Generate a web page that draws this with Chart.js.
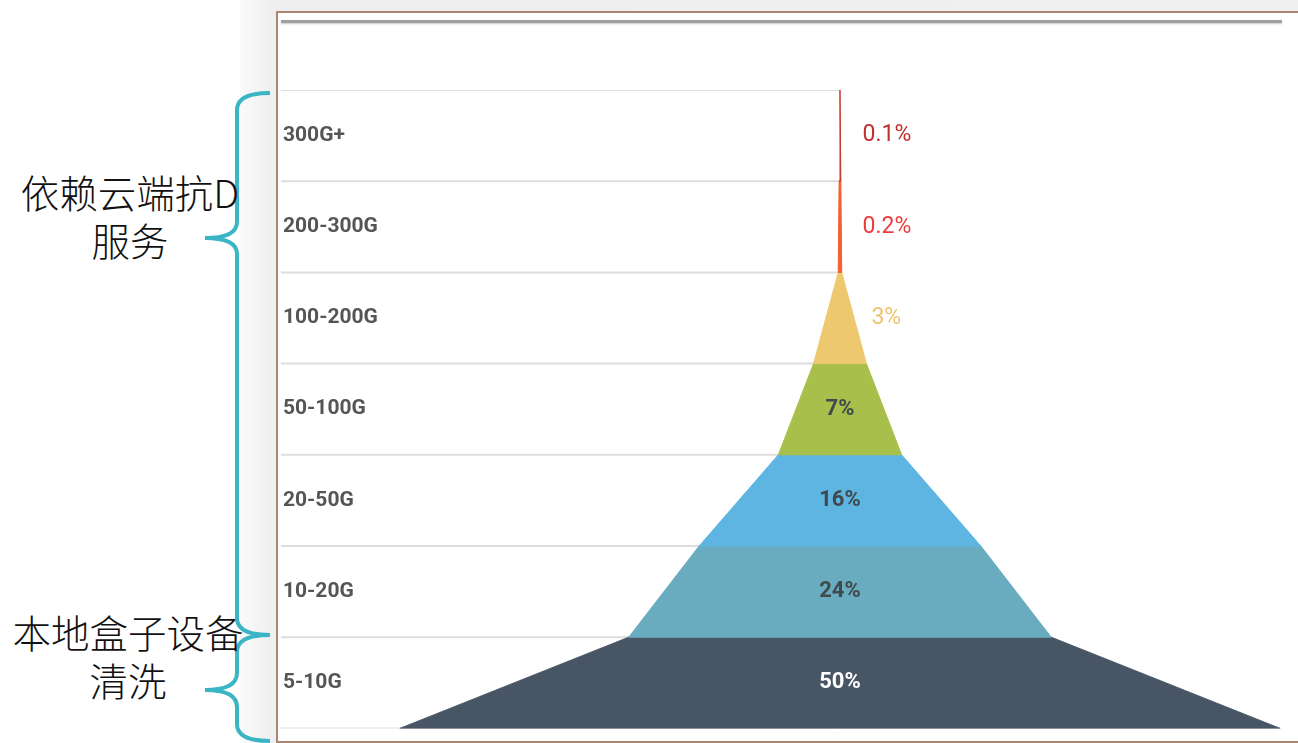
<!DOCTYPE html>
<html>
<head>
<meta charset="utf-8">
<script src="https://cdn.jsdelivr.net/npm/chart.js@4"></script>
<style>
  html, body { margin: 0; padding: 0; background: #fff; }
  #page { position: relative; width: 1298px; height: 743px; overflow: hidden; }
  #backdrop { position: absolute; left: 240px; top: 0; width: 1058px; height: 743px;
    background: linear-gradient(to right, #fafafa, #eeeeee 36px, #f0f0f0); }
  #frame { position: absolute; left: 276px; top: 11px; width: 1040px; height: 728px;
    border: 2px solid #a88670; background: #fff; }
  #topbar { position: absolute; left: 281px; top: 20px; width: 1001px; height: 3px;
    background: #a0a0a0; box-shadow: 0 1px 2px #c8c8c8; }
  #brace { position: absolute; left: 0; top: 0; }
  .note { position: absolute; width: 260px; text-align: center; color: #111;
    font-family: "Noto Sans CJK SC", sans-serif; font-weight: 300; font-size: 38.5px; line-height: 48px; }
  #chartBox { position: absolute; left: 0; top: 0; width: 1298px; height: 743px; }
</style>
</head>
<body>
<div id="page">
  <div id="backdrop"></div>
  <div id="frame"></div>
  <div id="topbar"></div>
  <svg id="brace" width="300" height="743">
    <path d="M270 93 Q237 93 237 110 L237 222 Q237 238 205 238 Q237 238 237 254 L237 618 Q237 635 270 635
             Q237 635 237 652 L237 673 Q237 690 205 690 Q237 690 237 707 L237 724 Q237 741 270 741"
          fill="none" stroke="#3ab5c5" stroke-width="4"/>
  </svg>
  <div class="note" style="left:0px; top:167px;">依赖云端抗D<br>服务</div>
  <div class="note" style="left:-2px; top:607px;">本地盒子设备<br>清洗</div>
  <div id="chartBox"><canvas id="funnelChart" width="1298" height="743"></canvas></div>
</div>

<script>
// 数据（自上而下）
const categories = ['300G+', '200-300G', '100-200G', '50-100G', '20-50G', '10-20G', '5-10G'];
const shares = [0.1, 0.2, 3, 7, 16, 24, 50];
const shareLabels = ['0.1%', '0.2%', '3%', '7%', '16%', '24%', '50%'];

// 样式
const segmentColors = ['#c8352e', '#f2612f', '#edc86f', '#a8c04b', '#5fb5e2', '#69abbf', '#475565'];
const labelColors = ['#c0302e', '#ee3b3d', '#ecc46e', '#3f4a4c', '#3f4a4c', '#3f4a4c', '#ffffff'];

const X_MIN = -63.5, X_MAX = 50.1;
const rowCount = categories.length;

// 每一层做成一个梯形（半宽 = 数值）
function buildFunnelDatasets() {
    return categories.map((name, k) => {
        const bottomY = rowCount - 1 - k;
        const topY = rowCount - k;
        const bottomHalf = shares[k];
        const topHalf = k === 0 ? 0 : shares[k - 1];
        return {
            label: name,
            data: [
                {x: -bottomHalf, y: bottomY},
                {x: -topHalf, y: topY},
                {x: topHalf, y: topY},
                {x: bottomHalf, y: bottomY},
                {x: -bottomHalf, y: bottomY}
            ],
            borderColor: segmentColors[k],
            backgroundColor: segmentColors[k],
            borderWidth: 1,
            pointRadius: 0,
            tension: 0,
            fill: 'shape',
            order: 1
        };
    });
}

// 行分隔线
function buildSeparatorDatasets() {
    const lines = [];
    for (let b = 0; b <= rowCount; b++) {
        lines.push({
            label: 'sep' + b,
            data: [{x: X_MIN, y: b}, {x: b === 0 ? X_MAX : 0, y: b}],
            borderColor: '#dddddd',
            borderWidth: 2,
            pointRadius: 0,
            fill: false,
            order: 10
        });
    }
    return lines;
}

// 百分比标签
const shareLabelPlugin = {
    id: 'shareLabels',
    afterDatasetsDraw(chart) {
        const {ctx, scales: {x, y}} = chart;
        ctx.save();
        ctx.textBaseline = 'middle';
        shares.forEach((v, k) => {
            const cy = y.getPixelForValue(rowCount - k - 0.5);
            ctx.fillStyle = labelColors[k];
            if (v >= 5) {
                ctx.font = 'bold 22px Roboto, sans-serif';
                ctx.textAlign = 'center';
                ctx.fillText(shareLabels[k], x.getPixelForValue(0), cy);
            } else {
                ctx.font = '23px Roboto, sans-serif';
                ctx.textAlign = 'left';
                ctx.fillText(shareLabels[k], x.getPixelForValue(Math.max(v, 2)) + 5, cy);
            }
        });
        ctx.restore();
    }
};

const ctx = document.getElementById('funnelChart').getContext('2d');
new Chart(ctx, {
    type: 'line',
    data: {
        datasets: buildSeparatorDatasets().concat(buildFunnelDatasets())
    },
    options: {
        responsive: false,
        animation: false,
        events: [],
        layout: { padding: { left: 277, right: 17, top: 90, bottom: 13 } },
        plugins: {
            legend: { display: false },
            tooltip: { enabled: false }
        },
        scales: {
            x: { type: 'linear', min: X_MIN, max: X_MAX, display: false },
            y: {
                type: 'linear',
                min: 0,
                max: rowCount,
                grid: { display: false, drawTicks: false },
                border: { display: false },
                afterBuildTicks: axis => {
                    axis.ticks = categories.map((_, i) => ({value: i + 0.5}));
                },
                ticks: {
                    mirror: true,
                    padding: 2,
                    color: '#555555',
                    font: { family: 'Roboto', size: 21, weight: 'bold' },
                    callback: value => categories[rowCount - 1 - Math.floor(value)]
                }
            }
        }
    },
    plugins: [shareLabelPlugin]
});
</script>
</body>
</html>
